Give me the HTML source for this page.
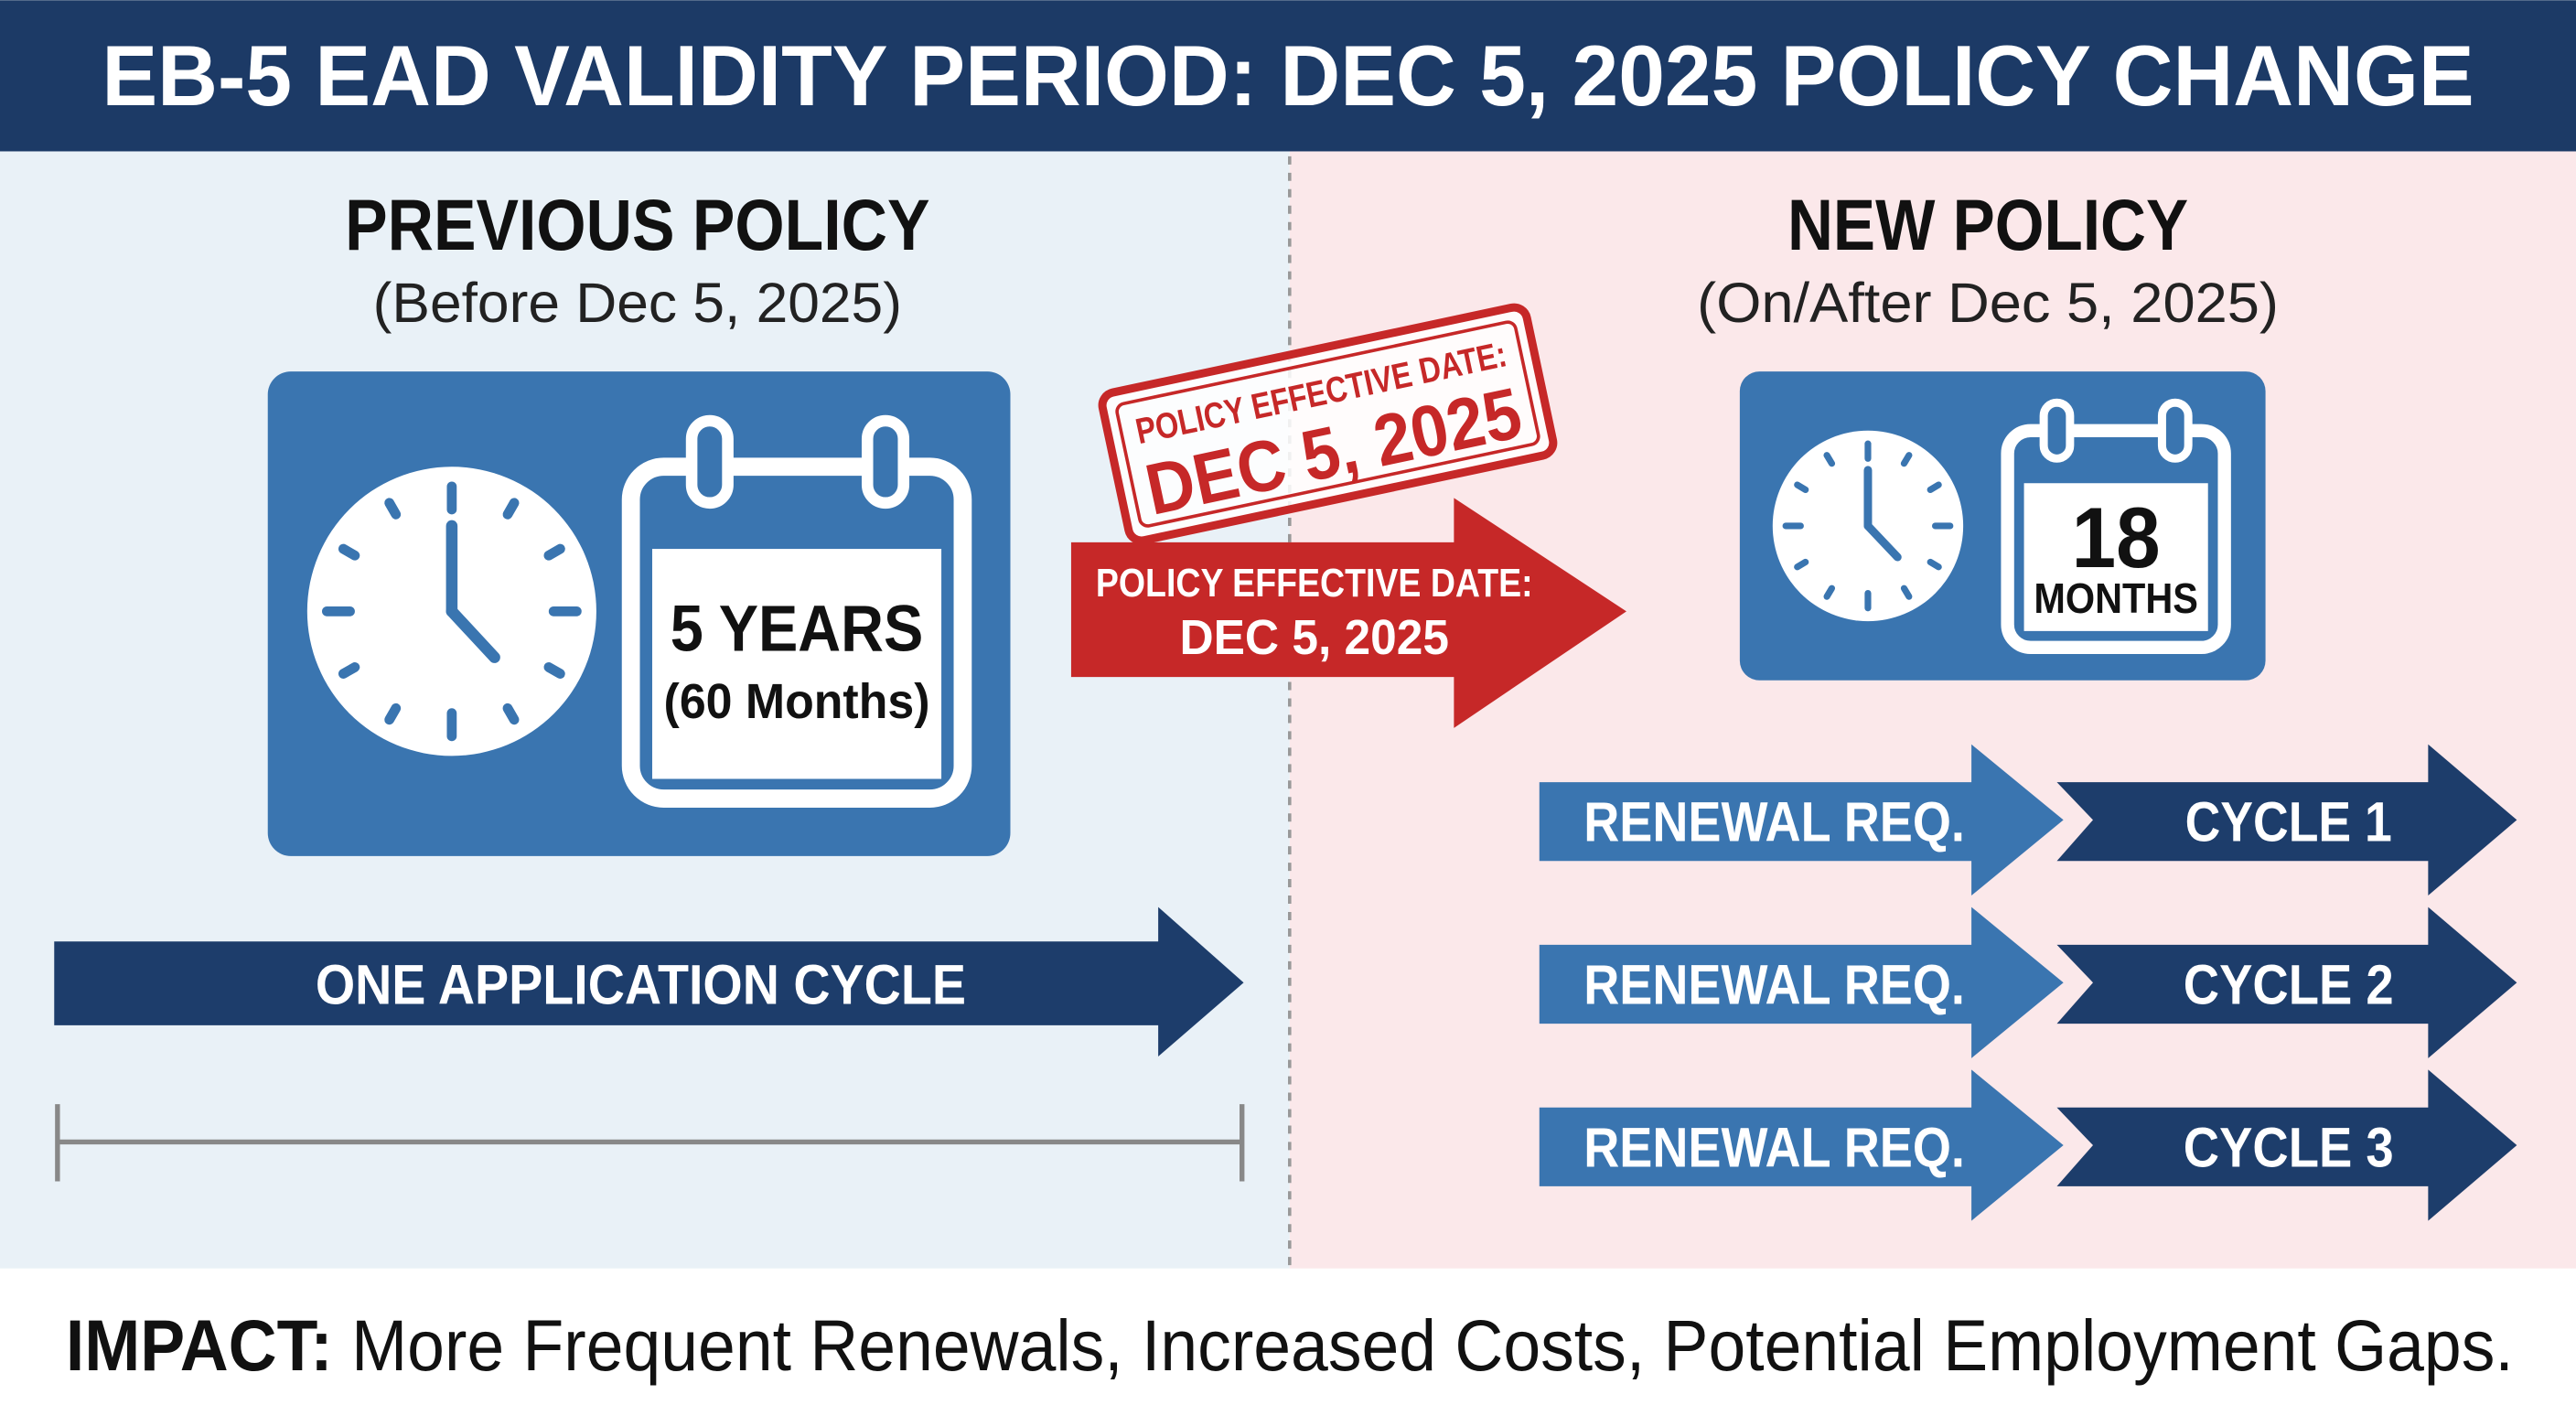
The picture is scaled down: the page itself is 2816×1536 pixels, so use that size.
<!DOCTYPE html>
<html><head><meta charset="utf-8"><style>html,body{margin:0;padding:0;background:#fff}svg{display:block}</style></head>
<body>
<svg width="2816" height="1536" viewBox="0 0 1568 855" xmlns="http://www.w3.org/2000/svg" font-family="'Liberation Sans Narrow','Liberation Sans',sans-serif">
<rect x="0" y="0" width="1568" height="855" fill="#fff"/>
<rect x="0" y="92" width="785" height="680" fill="#e9f1f7"/>
<rect x="785" y="92" width="783" height="680" fill="#fbe8ea"/>
<line x1="785" y1="95" x2="785" y2="772" stroke="#999" stroke-width="2" stroke-dasharray="5,5"/>
<rect x="0" y="0" width="1568" height="92" fill="#1c3a66"/>
<text x="784" y="64" text-anchor="middle" fill="#fff" font-weight="bold" font-size="52" textLength="1444" lengthAdjust="spacingAndGlyphs">EB-5 EAD VALIDITY PERIOD: DEC 5, 2025 POLICY CHANGE</text>

<text x="388" y="152" text-anchor="middle" fill="#111" font-weight="bold" font-size="44" textLength="356" lengthAdjust="spacingAndGlyphs">PREVIOUS POLICY</text>
<text x="388" y="196" text-anchor="middle" fill="#222" font-size="34" textLength="322" lengthAdjust="spacingAndGlyphs">(Before Dec 5, 2025)</text>
<text x="1210" y="152" text-anchor="middle" fill="#111" font-weight="bold" font-size="44" textLength="244" lengthAdjust="spacingAndGlyphs">NEW POLICY</text>
<text x="1210" y="196" text-anchor="middle" fill="#222" font-size="34" textLength="354" lengthAdjust="spacingAndGlyphs">(On/After Dec 5, 2025)</text>

<!-- left box -->
<rect x="163" y="226" width="452" height="295" rx="14" fill="#3a75b0"/>
<circle cx="275" cy="372" r="88" fill="#fff"/>
<g stroke="#3a75b0" stroke-width="6" stroke-linecap="round">
<line x1="275" y1="296" x2="275" y2="310"/><line x1="275" y1="434" x2="275" y2="448"/>
<line x1="199" y1="372" x2="213" y2="372"/><line x1="337" y1="372" x2="351" y2="372"/>
<line x1="313" y1="306" x2="309" y2="313"/><line x1="341" y1="334" x2="334" y2="338"/>
<line x1="341" y1="410" x2="334" y2="406"/><line x1="313" y1="438" x2="309" y2="431"/>
<line x1="237" y1="438" x2="241" y2="431"/><line x1="209" y1="410" x2="216" y2="406"/>
<line x1="209" y1="334" x2="216" y2="338"/><line x1="237" y1="306" x2="241" y2="313"/>
<line x1="275" y1="372" x2="275" y2="320" stroke-width="7"/><line x1="275" y1="372" x2="301" y2="400" stroke-width="7"/>
</g>
<rect x="384" y="284" width="202" height="202" rx="20" fill="none" stroke="#fff" stroke-width="11"/>
<rect x="397" y="334" width="176" height="140" fill="#fff"/>
<rect x="421" y="256" width="22" height="50" rx="11" fill="#3a75b0" stroke="#fff" stroke-width="7"/>
<rect x="528" y="256" width="22" height="50" rx="11" fill="#3a75b0" stroke="#fff" stroke-width="7"/>
<text x="485" y="396" text-anchor="middle" fill="#111" font-weight="bold" font-size="40" textLength="154" lengthAdjust="spacingAndGlyphs">5 YEARS</text>
<text x="485" y="437" text-anchor="middle" fill="#111" font-weight="bold" font-size="30" textLength="162" lengthAdjust="spacingAndGlyphs">(60 Months)</text>

<!-- stamp -->
<g transform="rotate(-12 808 257)">
<rect x="676" y="212" width="264" height="92" rx="8" fill="#fff" fill-opacity="0.85" stroke="#c62828" stroke-width="5"/>
<rect x="684" y="220" width="248" height="76" rx="5" fill="none" stroke="#c62828" stroke-width="2"/>
<text x="808" y="246" text-anchor="middle" fill="#c62828" font-weight="bold" font-size="22" textLength="230" lengthAdjust="spacingAndGlyphs">POLICY EFFECTIVE DATE:</text>
<text x="808" y="290" text-anchor="middle" fill="#c62828" font-weight="bold" font-size="44" textLength="232" lengthAdjust="spacingAndGlyphs">DEC 5, 2025</text>
</g>
<!-- red arrow -->
<polygon points="652,330 885,330 885,303 990,372 885,443 885,412 652,412" fill="#c62828"/>
<text x="800" y="363" text-anchor="middle" fill="#fff" font-weight="bold" font-size="24" textLength="266" lengthAdjust="spacingAndGlyphs">POLICY EFFECTIVE DATE:</text>
<text x="800" y="398" text-anchor="middle" fill="#fff" font-weight="bold" font-size="30" textLength="164" lengthAdjust="spacingAndGlyphs">DEC 5, 2025</text>

<!-- right box -->
<rect x="1059" y="226" width="320" height="188" rx="12" fill="#3a75b0"/>
<circle cx="1137" cy="320" r="58" fill="#fff"/>
<g stroke="#3a75b0" stroke-width="4" stroke-linecap="round">
<line x1="1137" y1="270" x2="1137" y2="279"/><line x1="1137" y1="361" x2="1137" y2="370"/>
<line x1="1087" y1="320" x2="1096" y2="320"/><line x1="1178" y1="320" x2="1187" y2="320"/>
<line x1="1162" y1="277" x2="1159" y2="282"/><line x1="1180" y1="295" x2="1175" y2="298"/>
<line x1="1180" y1="345" x2="1175" y2="342"/><line x1="1162" y1="363" x2="1159" y2="358"/>
<line x1="1112" y1="363" x2="1115" y2="358"/><line x1="1094" y1="345" x2="1099" y2="342"/>
<line x1="1094" y1="295" x2="1099" y2="298"/><line x1="1112" y1="277" x2="1115" y2="282"/>
<line x1="1137" y1="320" x2="1137" y2="286" stroke-width="5"/><line x1="1137" y1="320" x2="1155" y2="339" stroke-width="5"/>
</g>
<rect x="1222" y="262" width="132" height="132" rx="14" fill="none" stroke="#fff" stroke-width="8"/>
<rect x="1232" y="294" width="112" height="90" fill="#fff"/>
<rect x="1244" y="245" width="16" height="34" rx="8" fill="#3a75b0" stroke="#fff" stroke-width="5"/>
<rect x="1316" y="245" width="16" height="34" rx="8" fill="#3a75b0" stroke="#fff" stroke-width="5"/>
<text x="1288" y="345" text-anchor="middle" fill="#111" font-weight="bold" font-size="52" textLength="54" lengthAdjust="spacingAndGlyphs">18</text>
<text x="1288" y="373" text-anchor="middle" fill="#111" font-weight="bold" font-size="26" textLength="100" lengthAdjust="spacingAndGlyphs">MONTHS</text>

<!-- left arrow + timeline -->
<polygon points="33,573 705,573 705,552 757,598 705,643 705,624 33,624" fill="#1d3d6b"/>
<text x="390" y="611" text-anchor="middle" fill="#fff" font-weight="bold" font-size="34" textLength="396" lengthAdjust="spacingAndGlyphs">ONE APPLICATION CYCLE</text>
<g stroke="#888" stroke-width="3"><line x1="35" y1="695" x2="756" y2="695"/><line x1="35" y1="672" x2="35" y2="719"/><line x1="756" y1="672" x2="756" y2="719"/></g>

<!-- right arrows -->
<g font-weight="bold" font-size="34" fill="#fff" text-anchor="middle">
<polygon points="937,476 1200,476 1200,453 1256,499 1200,545 1200,524 937,524" fill="#3a75b0"/>
<polygon points="1252,476 1478,476 1478,453 1532,499 1478,545 1478,524 1252,524 1274,499" fill="#1d3d6b"/>
<text x="1080" y="512" textLength="232" lengthAdjust="spacingAndGlyphs">RENEWAL REQ.</text>
<text x="1393" y="512" textLength="126" lengthAdjust="spacingAndGlyphs">CYCLE 1</text>
<polygon points="937,575 1200,575 1200,552 1256,598 1200,644 1200,623 937,623" fill="#3a75b0"/>
<polygon points="1252,575 1478,575 1478,552 1532,598 1478,644 1478,623 1252,623 1274,598" fill="#1d3d6b"/>
<text x="1080" y="611" textLength="232" lengthAdjust="spacingAndGlyphs">RENEWAL REQ.</text>
<text x="1393" y="611" textLength="128" lengthAdjust="spacingAndGlyphs">CYCLE 2</text>
<polygon points="937,674 1200,674 1200,651 1256,697 1200,743 1200,722 937,722" fill="#3a75b0"/>
<polygon points="1252,674 1478,674 1478,651 1532,697 1478,743 1478,722 1252,722 1274,697" fill="#1d3d6b"/>
<text x="1080" y="710" textLength="232" lengthAdjust="spacingAndGlyphs">RENEWAL REQ.</text>
<text x="1393" y="710" textLength="128" lengthAdjust="spacingAndGlyphs">CYCLE 3</text>
</g>

<text x="40" y="834" fill="#111" font-size="44" textLength="1490" lengthAdjust="spacingAndGlyphs"><tspan font-weight="bold">IMPACT:</tspan> More Frequent Renewals, Increased Costs, Potential Employment Gaps.</text>
</svg>
</body></html>
